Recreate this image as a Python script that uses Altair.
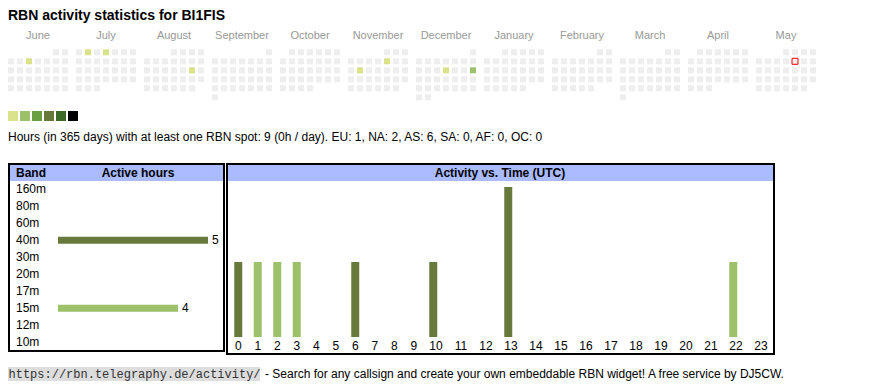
import datetime as dt
import pandas as pd
import altair as alt

# ---------------- data ----------------
TITLE = "RBN activity statistics for BI1FIS"
MONTHS = ["June", "July", "August", "September", "October", "November",
          "December", "January", "February", "March", "April", "May"]
MONTH_STARTS = [(2024, 6), (2024, 7), (2024, 8), (2024, 9), (2024, 10), (2024, 11),
                (2024, 12), (2025, 1), (2025, 2), (2025, 3), (2025, 4), (2025, 5)]
ACTIVE_DAYS = ["2024-06-05", "2024-07-02", "2024-07-04", "2024-08-17",
               "2024-11-08", "2024-11-12", "2024-12-12", "2024-12-15"]
ACTIVE_DAY_HOURS = [1, 1, 1, 1, 1, 1, 1, 2]
TODAY = "2025-05-09"
LEVELS = [1, 2, 3, 4, 5, 6]
LEVEL_COLORS = ["#d9e28a", "#9dc16b", "#6a9e43", "#677a3b", "#3b6b27", "#000000"]
EMPTY_COLOR = "#eeeeee"

STATS_TEXT = ("Hours (in 365 days) with at least one RBN spot: 9 (0h / day). "
              "EU: 1, NA: 2, AS: 6, SA: 0, AF: 0, OC: 0")

BANDS = ["160m", "80m", "60m", "40m", "30m", "20m", "17m", "15m", "12m", "10m"]
BAND_HOURS = [0, 0, 0, 5, 0, 0, 0, 4, 0, 0]
BAND_COLOR_KEYS = ["40m", "15m"]
BAND_COLOR_VALUES = ["#677a3b", "#9dc16b"]

HOURS = list(range(24))
HOUR_COUNTS = [1, 1, 1, 1, 0, 0, 1, 0, 0, 0, 1, 0, 0, 2, 0, 0, 0, 0, 0, 0, 0, 0, 1, 0]
HOUR_BANDS = ["40m", "15m", "15m", "15m", "", "", "40m", "", "", "", "40m", "", "",
              "40m", "", "", "", "", "", "", "", "", "15m", ""]

URL = "https://rbn.telegraphy.de/activity/"
FOOTER = "- Search for any callsign and create your own embeddable RBN widget! A free service by DJ5CW."

FONT = "Liberation Sans"
HEADER_BG = "#aabbff"

# ---------------- calendar table ----------------
rows = []
for name, (yy, mm) in zip(MONTHS, MONTH_STARTS):
    d = dt.date(yy, mm, 1)
    first_wd = d.weekday()
    while d.month == mm:
        idx = d.day - 1 + first_wd
        rows.append({"month": name, "wd": d.weekday(), "week": idx // 7,
                     "date": d.isoformat()})
        d += dt.timedelta(days=1)
cal = pd.DataFrame(rows)
hmap = dict(zip(ACTIVE_DAYS, ACTIVE_DAY_HOURS))
cal["level"] = cal["date"].map(hmap).fillna(0).astype(int)
cal["today"] = cal["date"] == TODAY

x_month = alt.X("month:N", scale=alt.Scale(domain=MONTHS, range=[0, 808],
                                            paddingInner=8 / 68, paddingOuter=0),
                axis=None)
x_off = alt.XOffset("wd:O", scale=alt.Scale(domain=list(range(7)),
                                            paddingInner=1 / 3, paddingOuter=0))
y_week = alt.Y("week:O", scale=alt.Scale(domain=list(range(6)), range=[41.3, 92.3],
                                         paddingInner=1 / 3, paddingOuter=0),
               axis=None)

cells = alt.Chart(cal).mark_rect().encode(
    x=x_month, xOffset=x_off, y=y_week,
    color=alt.Color("level:O", scale=alt.Scale(domain=[0] + LEVELS,
                                               range=[EMPTY_COLOR] + LEVEL_COLORS),
                    legend=None),
)
today_cell = alt.Chart(cal).transform_filter("datum.today").mark_rect(
    fill="transparent", stroke="#ff0000", strokeWidth=1
).encode(x=x_month, xOffset=x_off, y=y_week)
month_labels = alt.Chart(pd.DataFrame({"month": MONTHS})).mark_text(
    fontSize=11, color="#999999", font=FONT, baseline="alphabetic"
).encode(x=x_month, y=alt.value(31), text="month:N")
calendar = alt.layer(cells, today_cell, month_labels)

legend = alt.Chart(pd.DataFrame({"level": LEVELS})).mark_rect().encode(
    x=alt.X("level:O", scale=alt.Scale(domain=LEVELS, range=[0, 70],
                                       paddingInner=1 / 6, paddingOuter=0), axis=None),
    y=alt.value(103), y2=alt.value(113),
    color=alt.Color("level:O", scale=alt.Scale(domain=LEVELS, range=LEVEL_COLORS),
                    legend=None),
)


def text_layer(s, x, y, **kw):
    base = dict(font=FONT, fontSize=12, color="#000000", align="left",
                baseline="middle")
    base.update(kw)
    return alt.Chart(pd.DataFrame({"t": [s]})).mark_text(**base).encode(
        text="t:N", x=alt.value(x), y=alt.value(y))


def box(x1, x2, y1, y2, **kw):
    return alt.Chart(pd.DataFrame({"k": [0]})).mark_rect(**kw).encode(
        x=alt.value(x1), x2=alt.value(x2), y=alt.value(y1), y2=alt.value(y2))


title = text_layer(TITLE, 0, 12, fontSize=14, fontWeight="bold",
                   baseline="alphabetic")
stats = text_layer(STATS_TEXT, 0, 133.3, baseline="alphabetic")

# ---------------- band table ----------------
band_df = pd.DataFrame({"band": BANDS, "hours": BAND_HOURS})
y_band = alt.Y("band:N", scale=alt.Scale(domain=BANDS, range=[172.8, 342.8],
                                         paddingInner=0, paddingOuter=0), axis=None)
x_hours = alt.X("hours:Q", scale=alt.Scale(domain=[0, 5], range=[50, 200]), axis=None)
band_color = alt.Color("band:N", scale=alt.Scale(domain=BAND_COLOR_KEYS,
                                                 range=BAND_COLOR_VALUES), legend=None)
band_labels = alt.Chart(band_df).mark_text(
    font=FONT, fontSize=12, align="left", baseline="middle", color="#000000"
).encode(y=y_band, x=alt.value(8), text="band:N")
band_bars = alt.Chart(band_df).transform_filter("datum.hours > 0").mark_bar(
    size=7).encode(y=y_band, x=x_hours, color=band_color)
band_vals = alt.Chart(band_df).transform_filter("datum.hours > 0").mark_text(
    font=FONT, fontSize=12, align="left", baseline="middle", dx=4, color="#000000"
).encode(y=y_band, x=x_hours, text="hours:Q")
band_panel = alt.layer(band_labels, band_bars, band_vals)

# ---------------- activity vs time ----------------
hdf = pd.DataFrame({"hour": HOURS, "count": HOUR_COUNTS, "band": HOUR_BANDS})
hdf["label"] = hdf["hour"].astype(str)
# auto-layout table: column width grows with the label's digit count
hdf["w"] = 14 + 5.5 * hdf["label"].str.len()
hdf["left"] = hdf["w"].cumsum() - hdf["w"]
hdf["mid"] = hdf["left"] + hdf["w"] / 2
hdf["bx"] = hdf["left"] + 5.75
hdf["bx2"] = hdf["bx"] + 8
hdf["base"] = 0
total_w = float(hdf["w"].sum())

x_col = alt.Scale(domain=[0, total_w], range=[220.5, 220.5 + total_w])
y_cnt = alt.Scale(domain=[0, 2], range=[329, 179])
act_bars = alt.Chart(hdf).transform_filter("datum.count > 0").mark_rect().encode(
    x=alt.X("bx:Q", scale=x_col, axis=None), x2="bx2:Q",
    y=alt.Y("count:Q", scale=y_cnt, axis=None), y2="base:Q",
    color=band_color,
)
act_labels = alt.Chart(hdf).mark_text(
    font=FONT, fontSize=12, align="center", baseline="middle", color="#000000"
).encode(x=alt.X("mid:Q", scale=x_col, axis=None), y=alt.value(338), text="label:N")
act_panel = alt.layer(act_bars, act_labels)

# ---------------- frames, headers, footer ----------------
band_head = box(1, 216, 156, 173, fill=HEADER_BG)
act_head = box(219, 766, 156, 173, fill=HEADER_BG)
band_frame = box(1, 216, 156, 343, fill="transparent", stroke="#000000", strokeWidth=2)
act_frame = box(219, 766, 156, 346, fill="transparent", stroke="#000000", strokeWidth=2)
band_h1 = text_layer("Band", 8, 165, fontWeight="bold")
band_h2 = text_layer("Active hours", 130, 165, fontWeight="bold", align="center")
act_h = text_layer("Activity vs. Time (UTC)", 492, 165, fontWeight="bold", align="center")

url_bg = box(0, 252, 359, 373, fill="#dddddd")
url_txt = text_layer(URL, 0.5, 366, font="Liberation Mono", color="#333333")
foot_txt = text_layer(FOOTER, 257, 366)

chart = alt.layer(
    title, calendar, legend, stats,
    band_head, act_head, band_panel, act_panel,
    band_frame, act_frame, band_h1, band_h2, act_h,
    url_bg, url_txt, foot_txt,
).resolve_scale(
    x="independent", y="independent", color="independent"
).properties(
    width=854, height=374, padding=0, background="white",
    autosize=alt.AutoSizeParams(type="none"),
).configure_view(strokeWidth=0)

chart.save("out.html", embed_options={"renderer": "svg", "actions": False})
